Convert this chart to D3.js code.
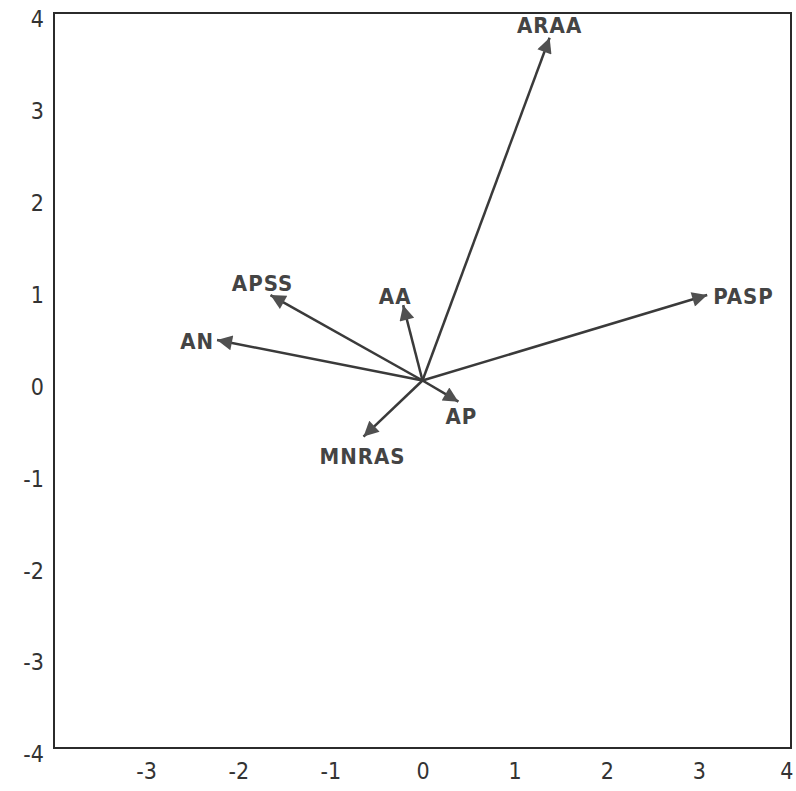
<!DOCTYPE html>
<html>
<head>
<meta charset="utf-8">
<script src="https://cdn.jsdelivr.net/npm/d3@7"></script>
<style>
  html, body { margin: 0; padding: 0; background: #fff; }
  svg { display: block; }
</style>
</head>
<body>
<svg id="chart" width="796" height="791"></svg>
<script>
// ---- data ----
const variables = ["ARAA", "PASP", "AA", "APSS", "AN", "AP", "MNRAS"];
const loadX     = [1.38,   3.09,   -0.21, -1.65,  -2.23, 0.39,  -0.64];
const loadY     = [3.73,   0.93,   0.82,  0.93,   0.44,  -0.23, -0.61];
const xTicks = [-3, -2, -1, 0, 1, 2, 3, 4];
const yTicks = [4, 3, 2, 1, 0, -1, -2, -3, -4];

// ---- label placement (pixel offsets from arrow tip; style only) ----
const labelOffsets = {
  ARAA:  {dx: 0,   dy: -12, anchor: "middle"},
  PASP:  {dx: 6,   dy: 1,   anchor: "start"},
  AA:    {dx: -8,  dy: -9,  anchor: "middle"},
  APSS:  {dx: -8,  dy: -12, anchor: "middle"},
  AN:    {dx: -3,  dy: 1,   anchor: "end"},
  AP:    {dx: 3,   dy: 15,  anchor: "middle"},
  MNRAS: {dx: -1,  dy: 20,  anchor: "middle"}
};

const svg = d3.select("#chart");
const mLeft = 54, mRight = 791, mTop = 13, mBottom = 748;

const x = d3.scaleLinear().domain([-4, 4]).range([mLeft, mRight]);
const y = d3.scaleLinear().domain([-4, 4]).range([mBottom, mTop]);

// frame
svg.append("rect")
  .attr("x", mLeft).attr("y", mTop)
  .attr("width", mRight - mLeft).attr("height", mBottom - mTop)
  .attr("fill", "none").attr("stroke", "#2b2b2b").attr("stroke-width", 2);

const tickFont = "'DejaVu Sans Condensed', 'DejaVu Sans', sans-serif";
const fmt = d => String(d);  // plain hyphen-minus as in the original

// y axis labels
const yAxis = svg.append("g")
  .attr("transform", `translate(${mLeft},0)`)
  .call(d3.axisLeft(y).tickValues(yTicks).tickSize(0).tickPadding(10).tickFormat(fmt));
yAxis.select(".domain").remove();
yAxis.selectAll("text")
  .attr("dy", "0.6em")
  .style("font-family", tickFont).style("font-size", "23px").attr("fill", "#333");

// x axis labels
const xAxis = svg.append("g")
  .attr("transform", `translate(0,${mBottom})`)
  .call(d3.axisBottom(x).tickValues(xTicks).tickSize(0).tickPadding(15).tickFormat(fmt));
xAxis.select(".domain").remove();
xAxis.selectAll("text")
  .style("font-family", tickFont).style("font-size", "23px").attr("fill", "#333");
xAxis.selectAll(".tick").filter(d => d === 4).select("text")
  .attr("text-anchor", "end").attr("x", 2);

// arrowhead marker
const defs = svg.append("defs");
defs.append("marker")
  .attr("id", "head")
  .attr("viewBox", "0 0 10 10")
  .attr("refX", 10).attr("refY", 5)
  .attr("markerWidth", 20).attr("markerHeight", 15)
  .attr("markerUnits", "userSpaceOnUse")
  .attr("orient", "auto")
  .append("path")
  .attr("d", "M0,0 L10,5 L0,10 Z")
  .attr("fill", "#505050");

const rows = variables.map((v, i) => ({name: v, x: loadX[i], y: loadY[i]}));

svg.append("g").selectAll("line")
  .data(rows).join("line")
  .attr("x1", x(0)).attr("y1", y(0))
  .attr("x2", d => x(d.x)).attr("y2", d => y(d.y))
  .attr("stroke", "#3a3a3a").attr("stroke-width", 2.5)
  .attr("marker-end", "url(#head)");

svg.append("g").selectAll("text")
  .data(rows).join("text")
  .attr("x", d => x(d.x) + labelOffsets[d.name].dx)
  .attr("y", d => y(d.y) + labelOffsets[d.name].dy)
  .attr("text-anchor", d => labelOffsets[d.name].anchor)
  .attr("dominant-baseline", "central")
  .style("font-family", "'DejaVu Sans Condensed', 'DejaVu Sans', sans-serif")
  .style("font-weight", "bold")
  .style("font-size", "22px")
  .style("letter-spacing", "1px")
  .attr("fill", "#444")
  .text(d => d.name);
</script>
</body>
</html>
